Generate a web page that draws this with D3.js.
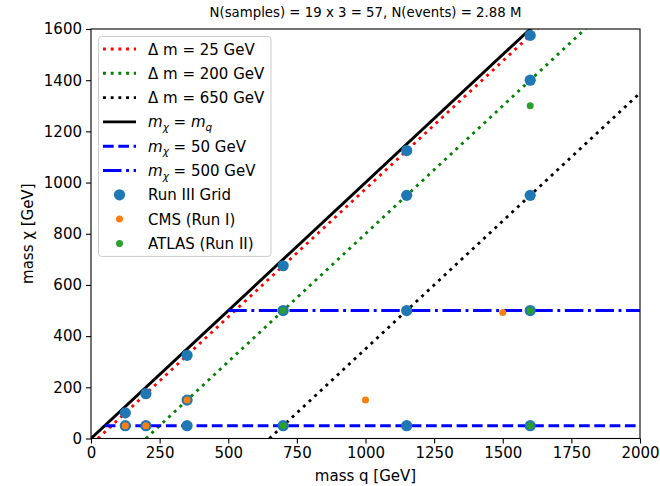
<!DOCTYPE html>
<html><head><meta charset="utf-8">
<script src="https://cdn.jsdelivr.net/npm/d3@7"></script>
<style>body{margin:0;background:#fff}svg{display:block;font-family:"DejaVu Sans",sans-serif}</style>
</head><body><svg id="c" width="660" height="486"></svg>
<script>
const titleText = "N(samples) = 19 x 3 = 57, N(events) = 2.88 M";
const xTicks = [0,250,500,750,1000,1250,1500,1750,2000];
const yTicks = [0,200,400,600,800,1000,1200,1400,1600];
const deltaM = [25,200,650];
const deltaColors = ["#ff0000","#008000","#000000"];
const chiFixed = [50,500];
const runIII_q   = [125,125,200,200,350,350,350,700,700,700,1150,1150,1150,1150,1600,1600,1600,1600,1600];
const runIII_chi = [100,50,175,50,325,150,50,675,500,50,1125,950,500,50,1575,1400,950,500,50];
const cms_q   = [125,200,350,1000,1500];
const cms_chi = [50,50,150,150,492];
const atlas_q   = [700,700,1600,1600,1600];
const atlas_chi = [500,50,1300,500,50];

const svg = d3.select("#c");
const L=91,R=640,T=29,B=438.5;
const x = d3.scaleLinear([0,2000],[L,R]);
const y = d3.scaleLinear([0,1600],[B,T]);
const lw = 2.9;
const FS = 15;

svg.append("defs").append("clipPath").attr("id","clip").append("rect")
  .attr("x",L).attr("y",T).attr("width",R-L).attr("height",B-T);
const g = svg.append("g").attr("clip-path","url(#clip)");

const dotDash = "2.9,4.8", dashDash = "10.7,4.6", dashDot = "18.5,4.6,2.9,4.6";

// delta m lines
deltaM.forEach((dm,i)=>{
  g.append("line").attr("x1",x(dm)).attr("y1",y(0)).attr("x2",x(2000)).attr("y2",y(2000-dm))
   .attr("stroke",deltaColors[i]).attr("stroke-width",lw).attr("stroke-dasharray",dotDash);
});
// diagonal
g.append("line").attr("x1",x(0)).attr("y1",y(0)).attr("x2",x(2000)).attr("y2",y(2000))
  .attr("stroke","#000").attr("stroke-width",lw);
// fixed chi
g.append("line").attr("x1",x(chiFixed[0])).attr("y1",y(chiFixed[0])).attr("x2",x(2000)).attr("y2",y(chiFixed[0]))
  .attr("stroke","#0000ff").attr("stroke-width",lw).attr("stroke-dasharray",dashDash);
g.append("line").attr("x1",x(chiFixed[1])).attr("y1",y(chiFixed[1])).attr("x2",x(2000)).attr("y2",y(chiFixed[1]))
  .attr("stroke","#0000ff").attr("stroke-width",lw).attr("stroke-dasharray",dashDot);

// scatter
const pts = (qs,cs)=>qs.map((q,i)=>[q,cs[i]]);
g.selectAll(".r3").data(pts(runIII_q,runIII_chi)).join("circle")
  .attr("cx",d=>x(d[0])).attr("cy",d=>y(d[1])).attr("r",5.6).attr("fill","#1f77b4");
g.selectAll(".cms").data(pts(cms_q,cms_chi)).join("circle")
  .attr("cx",d=>x(d[0])).attr("cy",d=>y(d[1])).attr("r",3.5).attr("fill","#ff7f0e");
g.selectAll(".atl").data(pts(atlas_q,atlas_chi)).join("circle")
  .attr("cx",d=>x(d[0])).attr("cy",d=>y(d[1])).attr("r",3.5).attr("fill","#2ca02c");

// frame
svg.append("rect").attr("x",L).attr("y",T).attr("width",R-L).attr("height",B-T)
  .attr("fill","none").attr("stroke","#000").attr("stroke-width",1.1);

// axes
const xa = svg.append("g").attr("transform",`translate(0,${B})`)
  .call(d3.axisBottom(x).tickValues(xTicks).tickFormat(d3.format("d")).tickSize(5).tickPadding(4));
const ya = svg.append("g").attr("transform",`translate(${L},0)`)
  .call(d3.axisLeft(y).tickValues(yTicks).tickFormat(d3.format("d")).tickSize(5).tickPadding(4));
[xa,ya].forEach(a=>{
  a.select(".domain").remove();
  a.selectAll("line").attr("stroke","#000").attr("stroke-width",1.1);
  a.selectAll("text").attr("font-size",FS).attr("fill","#000").attr("font-family","DejaVu Sans");
});

svg.append("text").attr("x",(L+R)/2).attr("y",17).attr("text-anchor","middle")
  .attr("font-size",13.3).text(titleText);
svg.append("text").attr("x",(L+R)/2).attr("y",481).attr("text-anchor","middle")
  .attr("font-size",FS).text("mass q [GeV]");
svg.append("text").attr("transform",`translate(33,${(T+B)/2}) rotate(-90)`).attr("text-anchor","middle")
  .attr("font-size",FS).text("mass χ [GeV]");

// legend
const lgX=98.5, lgY=36.5, step=24.3, first=49;
const entries = [
  {type:"line",color:deltaColors[0],dash:dotDash,label:[["Δ m = "+deltaM[0]+" GeV","n"]]},
  {type:"line",color:deltaColors[1],dash:dotDash,label:[["Δ m = "+deltaM[1]+" GeV","n"]]},
  {type:"line",color:deltaColors[2],dash:dotDash,label:[["Δ m = "+deltaM[2]+" GeV","n"]]},
  {type:"line",color:"#000",dash:null,label:[["m","i"],["χ","s"],[" = ","n"],["m","i"],["q","s"]]},
  {type:"line",color:"#0000ff",dash:dashDash,label:[["m","i"],["χ","s"],[" = "+chiFixed[0]+" GeV","n"]]},
  {type:"line",color:"#0000ff",dash:dashDot,label:[["m","i"],["χ","s"],[" = "+chiFixed[1]+" GeV","n"]]},
  {type:"pt",color:"#1f77b4",r:5.6,label:[["Run III Grid","n"]]},
  {type:"pt",color:"#ff7f0e",r:3.5,label:[["CMS (Run I)","n"]]},
  {type:"pt",color:"#2ca02c",r:3.5,label:[["ATLAS (Run II)","n"]]},
];
const lg = svg.append("g");
const box = lg.append("rect").attr("x",lgX).attr("y",lgY).attr("rx",3).attr("ry",3)
  .attr("fill","#fff").attr("fill-opacity",0.8).attr("stroke","#cccccc").attr("stroke-width",1);
let maxR=0;
entries.forEach((e,i)=>{
  const cy = first + i*step;
  if(e.type==="line"){
    const ln = lg.append("line").attr("x1",103).attr("x2",136).attr("y1",cy).attr("y2",cy)
      .attr("stroke",e.color).attr("stroke-width",lw);
    if(e.dash) ln.attr("stroke-dasharray",e.dash);
  } else {
    lg.append("circle").attr("cx",119.5).attr("cy",cy).attr("r",e.r).attr("fill",e.color);
  }
  const t = lg.append("text").attr("x",148).attr("y",cy+5.5).attr("font-size",FS);
  let prev = "n";
  e.label.forEach(p=>{
    const s = t.append("tspan").text(p[0]);
    if(p[1]==="i") s.attr("font-style","italic");
    if(p[1]==="s") s.attr("font-style","italic").attr("font-size",FS*0.7).attr("dy",3.5);
    else if(prev==="s") s.attr("dy",-3.5);
    prev = p[1];
  });
  const bb = t.node().getBBox(); maxR=Math.max(maxR,bb.x+bb.width);
});
box.attr("width",maxR+6-lgX).attr("height",(first+8*step+13)-lgY);
</script></body></html>
